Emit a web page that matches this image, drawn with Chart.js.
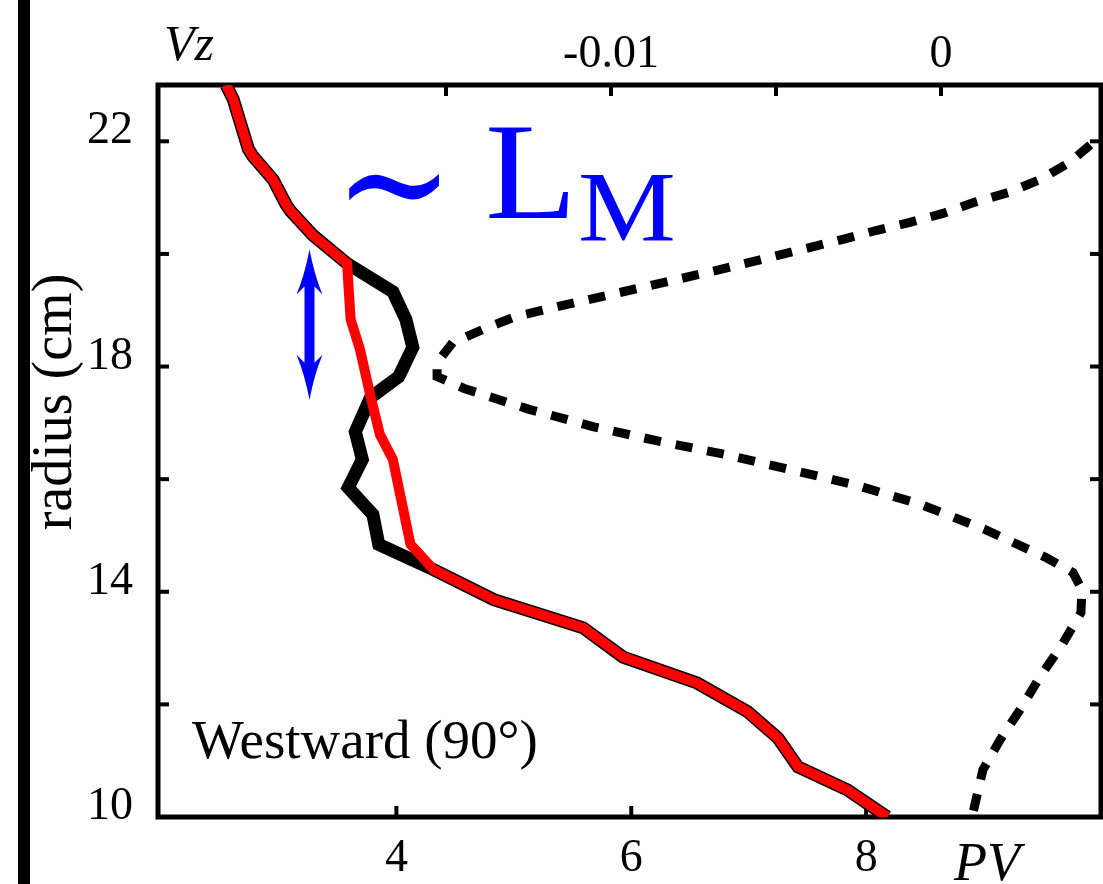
<!DOCTYPE html>
<html>
<head>
<meta charset="utf-8">
<title>Westward (90°) profiles</title>
<script src="https://cdn.jsdelivr.net/npm/chart.js@4.4.1/dist/chart.umd.min.js"></script>
<style>
  html, body { margin: 0; padding: 0; background: #fff; }
  #wrap { position: relative; width: 1103px; height: 884px; }
</style>
</head>
<body>
<div id="wrap"><canvas id="c" width="1103" height="884"></canvas></div>
<script>
// PV profile, run A (red) — radius in cm, PV on the bottom axis
const redRadius = [23.0, 22.75, 21.86, 21.73, 21.32, 20.88, 20.76, 20.33, 19.83, 18.84, 18.30, 17.47, 16.79, 16.35, 14.84, 14.39, 13.86, 13.36, 12.84, 12.38, 11.87, 11.40, 10.89, 10.48, 10.0];
const redPV     = [2.55, 2.61, 2.74, 2.78, 2.95, 3.06, 3.10, 3.29, 3.58, 3.61, 3.69, 3.78, 3.86, 3.97, 4.12, 4.32, 4.83, 5.59, 5.93, 6.56, 6.99, 7.25, 7.42, 7.84, 8.18];

// PV profile, run B (black)
const blackRadius = [23.0, 22.75, 21.86, 21.73, 21.32, 20.88, 20.76, 20.33, 19.83, 19.33, 18.84, 18.34, 17.82, 17.45, 16.84, 16.35, 15.85, 15.37, 14.84, 14.39, 13.86, 13.36, 12.84, 12.38, 11.87, 11.40, 10.89, 10.48, 10.0];
const blackPV     = [2.55, 2.61, 2.74, 2.78, 2.95, 3.06, 3.10, 3.29, 3.58, 3.97, 4.08, 4.14, 4.02, 3.78, 3.65, 3.71, 3.59, 3.80, 3.85, 4.32, 4.83, 5.59, 5.93, 6.56, 6.99, 7.25, 7.42, 7.84, 8.18];

// Vertical velocity Vz (dashed) on the top axis
const vzRadius = [22.30, 22.04, 21.63, 21.32, 21.09, 20.92, 20.72, 20.56, 20.42, 20.26, 19.97, 19.69, 19.42, 19.16, 18.89, 18.66, 18.43, 18.07, 17.82, 17.61, 17.24, 16.93, 16.67, 16.44, 16.17, 15.90, 15.55, 15.10, 14.60, 14.34, 14.04, 13.63, 13.06, 12.49, 11.90, 11.37, 10.84, 10.0];
const vzValues = [0.00527, 0.00473, 0.00391, 0.00300, 0.00203, 0.00103, 0.00006, -0.00094, -0.00194, -0.00297, -0.00497, -0.00694, -0.00894, -0.01091, -0.01288, -0.01388, -0.01479, -0.01527, -0.01527, -0.01445, -0.01248, -0.01052, -0.00852, -0.00655, -0.00458, -0.00261, -0.00061, 0.00136, 0.00321, 0.00400, 0.00427, 0.00424, 0.00367, 0.00300, 0.00239, 0.00179, 0.00127, 0.00094];

// Tick values and their labels
const radiusTickValues = [10, 12, 14, 16, 18, 20, 22];
const radiusTickLabels = ['10', '', '14', '', '18', '', '22'];
const pvTickValues = [4, 6, 8];
const pvTickLabels = ['4', '6', '8'];
const vzTickValues = [-0.015, -0.01, -0.005, 0];
const vzTickLabels = ['', '-0.01', '', '0'];

// Extent of the L_M bracket (radius, cm) and the PV column where it sits
const lmRange = [17.41, 20.08];
const lmPV = 3.26;

const SERIF = '"Liberation Serif", "Times New Roman", serif';

function pairs(xs, ys) { return xs.map((x, i) => ({ x: x, y: ys[i] })); }
function labelFor(values, labels) {
  return v => { const i = values.findIndex(t => Math.abs(t - v) < 1e-9); return i < 0 ? '' : labels[i]; };
}

function seg(ctx, x1, y1, x2, y2) { ctx.beginPath(); ctx.moveTo(x1, y1); ctx.lineTo(x2, y2); ctx.stroke(); }

const decor = {
  id: 'decor',
  beforeDraw(chart) {
    const ctx = chart.ctx;
    ctx.save();
    ctx.fillStyle = '#ffffff';
    ctx.fillRect(0, 0, chart.width, chart.height);
    // heavy panel separator on the left
    ctx.fillStyle = '#000';
    ctx.fillRect(18, 0, 12, chart.height);
    ctx.restore();
  },
  beforeDatasetsDraw(chart) {
    const { ctx, chartArea: a, scales } = chart;
    ctx.save();
    ctx.strokeStyle = '#000';
    ctx.lineWidth = 5;
    ctx.lineJoin = 'miter';
    ctx.strokeRect(a.left, a.top, a.right - a.left, a.bottom - a.top);
    // inward tick marks
    ctx.lineWidth = 4;
    ctx.lineCap = 'butt';
    const L = 11;
    radiusTickValues.forEach(v => {
      const y = scales.y.getPixelForValue(v);
      seg(ctx, a.left, y, a.left + L, y);
      seg(ctx, a.right, y, a.right - L, y);
    });
    pvTickValues.forEach(v => {
      const x = scales.x.getPixelForValue(v);
      seg(ctx, x, a.bottom, x, a.bottom - L);
    });
    vzTickValues.forEach(v => {
      const x = scales.x2.getPixelForValue(v);
      seg(ctx, x, a.top, x, a.top + L);
    });
    ctx.restore();
  },
  afterDatasetsDraw(chart) {
    const { ctx, scales } = chart;
    ctx.save();
    ctx.fillStyle = '#000';
    ctx.textBaseline = 'alphabetic';

    // axis names
    ctx.textAlign = 'left';
    ctx.font = 'italic 50px ' + SERIF;
    ctx.fillText('Vz', 164, 60);
    ctx.font = 'italic 54px ' + SERIF;
    ctx.fillText('PV', 954, 880);

    ctx.save();
    ctx.translate(71, 402);
    ctx.rotate(-Math.PI / 2);
    ctx.textAlign = 'center';
    ctx.font = '56px ' + SERIF;
    ctx.fillText('radius (cm)', 0, 0);
    ctx.restore();

    // panel caption
    ctx.textAlign = 'left';
    ctx.font = '55px ' + SERIF;
    ctx.fillText('Westward (90°)', 192, 758);

    // ~ L_M label
    ctx.fillStyle = '#0000ff';
    ctx.save();
    ctx.translate(394, 238);
    ctx.scale(1.28, 1.45);
    ctx.font = '112px "DejaVu Serif", serif';
    ctx.textAlign = 'center';
    ctx.fillText('\u223C', 0, 0);
    ctx.restore();
    ctx.save();
    ctx.translate(485, 218);
    ctx.scale(1.1, 1);
    ctx.font = '137px ' + SERIF;
    ctx.fillText('L', 0, 0);
    ctx.restore();
    ctx.save();
    ctx.translate(578, 240);
    ctx.scale(1.1, 1);
    ctx.font = '100px ' + SERIF;
    ctx.fillText('M', 0, 0);
    ctx.restore();

    // double arrow spanning the L_M range
    const x = scales.x.getPixelForValue(lmPV);
    const yTop = scales.y.getPixelForValue(lmRange[1]);
    const yBot = scales.y.getPixelForValue(lmRange[0]);
    const hl = 45, hw = 13, sw = 5, nk = 37;
    ctx.beginPath();
    ctx.moveTo(x, yTop);
    ctx.quadraticCurveTo(x + 5, yTop + 26, x + hw, yTop + hl);
    ctx.lineTo(x + sw, yTop + nk);
    ctx.lineTo(x + sw, yBot - nk);
    ctx.lineTo(x + hw, yBot - hl);
    ctx.quadraticCurveTo(x + 5, yBot - 26, x, yBot);
    ctx.quadraticCurveTo(x - 5, yBot - 26, x - hw, yBot - hl);
    ctx.lineTo(x - sw, yBot - nk);
    ctx.lineTo(x - sw, yTop + nk);
    ctx.lineTo(x - hw, yTop + hl);
    ctx.quadraticCurveTo(x - 5, yTop + 26, x, yTop);
    ctx.closePath();
    ctx.fill();
    ctx.restore();
  }
};

const tickFont = { family: SERIF, size: 46 };

new Chart(document.getElementById('c'), {
  type: 'line',
  data: {
    datasets: [
      {
        label: 'PV (red)',
        data: pairs(redPV, redRadius),
        xAxisID: 'x', yAxisID: 'y',
        borderColor: '#ff0000', borderWidth: 10,
        borderJoinStyle: 'miter', borderCapStyle: 'butt',
        pointRadius: 0, tension: 0, fill: false
      },
      {
        label: 'PV (black)',
        data: pairs(blackPV, blackRadius),
        xAxisID: 'x', yAxisID: 'y',
        borderColor: '#000000', borderWidth: 13,
        borderJoinStyle: 'miter', borderCapStyle: 'butt',
        pointRadius: 0, tension: 0, fill: false
      },
      {
        label: 'Vz',
        data: pairs(vzValues, vzRadius),
        xAxisID: 'x2', yAxisID: 'y',
        borderColor: '#000000', borderWidth: 9,
        borderDash: [17, 15], borderCapStyle: 'butt', borderJoinStyle: 'miter',
        pointRadius: 0, tension: 0, fill: false
      }
    ]
  },
  options: {
    responsive: false,
    animation: false,
    events: [],
    layout: { padding: { left: 0, right: 2, top: 0, bottom: 0 } },
    plugins: { legend: { display: false }, tooltip: { enabled: false } },
    scales: {
      x: {
        type: 'linear', position: 'bottom',
        min: 1.97, max: 10.0,
        grid: { display: false, drawTicks: false },
        border: { display: false },
        afterBuildTicks: s => { s.ticks = pvTickValues.map(v => ({ value: v })); },
        afterFit: s => { s.height = 67; },
        ticks: { color: '#000', font: tickFont, padding: 14, maxRotation: 0, autoSkip: false,
                 callback: labelFor(pvTickValues, pvTickLabels) }
      },
      x2: {
        type: 'linear', position: 'top',
        min: -0.023727, max: 0.004848,
        grid: { display: false, drawTicks: false },
        border: { display: false },
        afterBuildTicks: s => { s.ticks = vzTickValues.map(v => ({ value: v })); },
        afterFit: s => { s.height = 85; },
        ticks: { color: '#000', font: tickFont, padding: 2, maxRotation: 0, autoSkip: false,
                 callback: labelFor(vzTickValues, vzTickLabels) }
      },
      y: {
        type: 'linear', position: 'left',
        min: 10, max: 23,
        grid: { display: false, drawTicks: false },
        border: { display: false },
        afterBuildTicks: s => { s.ticks = radiusTickValues.map(v => ({ value: v })); },
        afterFit: s => { s.width = 158; },
        ticks: { color: '#000', font: tickFont, padding: 25, labelOffset: -10, autoSkip: false,
                 callback: labelFor(radiusTickValues, radiusTickLabels) }
      }
    }
  },
  plugins: [decor]
});
</script>
</body>
</html>
